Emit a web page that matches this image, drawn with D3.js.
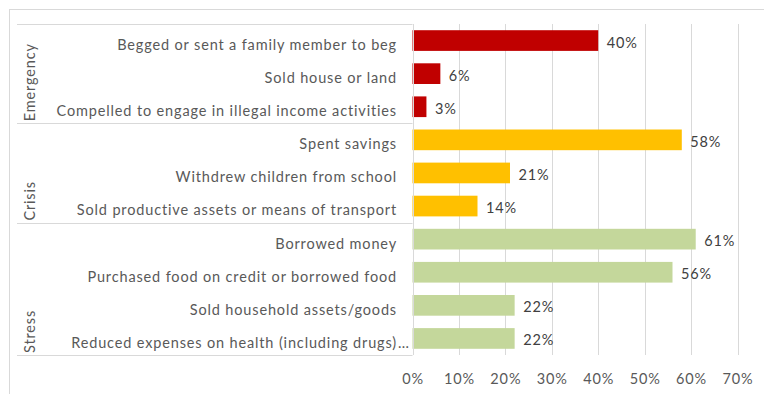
<!DOCTYPE html>
<html>
<head>
<meta charset="utf-8">
<script src="https://cdn.jsdelivr.net/npm/d3@7"></script>
<style>
  html, body { margin: 0; padding: 0; background: #ffffff; }
  svg { display: block; }
  text { font-family: Lato, "Open Sans", sans-serif; letter-spacing: 0.85px; }
</style>
</head>
<body>
<svg id="chart" width="764" height="394"></svg>
<script>
// Coping strategies, share of households (%)
const categories = [
  "Begged or sent a family member to beg",
  "Sold house or land",
  "Compelled to engage in illegal income activities",
  "Spent savings",
  "Withdrew children from school",
  "Sold productive assets or means of transport",
  "Borrowed money",
  "Purchased food on credit or borrowed food",
  "Sold household assets/goods",
  "Reduced expenses on health (including drugs)..."
];
const values = [40, 6, 3, 58, 21, 14, 61, 56, 22, 22];
const groupOf = ["Emergency", "Emergency", "Emergency", "Crisis", "Crisis", "Crisis",
                 "Stress", "Stress", "Stress", "Stress"];
const groups = ["Emergency", "Crisis", "Stress"];
const groupColors = ["#C00000", "#FFC000", "#C4D79B"];
const xTicks = [0, 10, 20, 30, 40, 50, 60, 70];

const svg = d3.select("#chart");
const W = 764, H = 394;
const plot = { left: 412.5, right: 737.5, top: 24, bottom: 355 };
const fontSize = 14.5;

// outer frame
svg.append("rect")
  .attr("x", 9.5).attr("y", 9.5)
  .attr("width", W).attr("height", H)
  .attr("fill", "none").attr("stroke", "#d9d9d9").attr("stroke-width", 1);

const x = d3.scaleLinear().domain([0, 70]).range([plot.left, plot.right]);
const y = d3.scaleBand().domain(d3.range(categories.length))
  .range([plot.top, plot.bottom]).paddingInner(0.375).paddingOuter(0.1875);
const color = d3.scaleOrdinal().domain(groups).range(groupColors);

// vertical gridlines
svg.append("g").selectAll("line").data(xTicks.slice(1)).join("line")
  .attr("x1", d => Math.round(x(d)) + 0.5).attr("x2", d => Math.round(x(d)) + 0.5)
  .attr("y1", plot.top).attr("y2", plot.bottom)
  .attr("stroke", "#d9d9d9").attr("stroke-width", 1);

// x axis tick labels
const xAxis = d3.axisBottom(x).tickValues(xTicks).tickFormat(d => d + "%").tickSize(0).tickPadding(0);
const gx = svg.append("g").attr("transform", `translate(0,${plot.bottom + 19})`).call(xAxis);
gx.select(".domain").remove();
gx.selectAll("text").attr("font-family", "Lato, 'Open Sans', sans-serif")
  .attr("font-size", fontSize).attr("fill", "#595959");

// bars
svg.append("g").selectAll("rect").data(values).join("rect")
  .attr("x", x(0))
  .attr("y", (d, i) => y(i))
  .attr("width", d => x(d) - x(0))
  .attr("height", y.bandwidth())
  .attr("fill", (d, i) => color(groupOf[i]));

// value labels
svg.append("g").selectAll("text").data(values).join("text")
  .attr("x", d => x(d) + 8.5)
  .attr("y", (d, i) => y(i) + y.bandwidth() / 2 + 7)
  .attr("font-size", fontSize).attr("fill", "#404040")
  .text(d => d + "%");

// category label table: group separators and axis line
const groupBounds = groups.map(g => {
  const idx = d3.range(categories.length).filter(i => groupOf[i] === g);
  const step = y.step();
  const top = plot.top + idx[0] * step;
  const bottom = plot.top + (idx[idx.length - 1] + 1) * step;
  return { g, top, bottom };
});
const sepYs = [plot.top].concat(groupBounds.map(b => b.bottom));
svg.append("g").selectAll("line").data(sepYs).join("line")
  .attr("x1", 17).attr("x2", plot.left)
  .attr("y1", d => Math.round(d) + 0.5).attr("y2", d => Math.round(d) + 0.5)
  .attr("stroke", "#d9d9d9").attr("stroke-width", 1);
svg.append("line")
  .attr("x1", Math.round(plot.left) + 0.5).attr("x2", Math.round(plot.left) + 0.5)
  .attr("y1", plot.top).attr("y2", plot.bottom)
  .attr("stroke", "#d9d9d9").attr("stroke-width", 1);

// category labels; a trailing ellipsis hangs past the label column edge
const labelEdge = 397;
const catG = svg.append("g");
categories.forEach((label, i) => {
  const cut = label.endsWith("...");
  const main = cut ? label.slice(0, -3) : label;
  const yy = y(i) + y.bandwidth() / 2 + 9.4;
  catG.append("text")
    .attr("x", labelEdge).attr("y", yy)
    .attr("text-anchor", "end")
    .attr("font-size", fontSize).attr("fill", "#595959")
    .text(main);
  if (cut) {
    catG.append("text")
      .attr("x", labelEdge + 1).attr("y", yy)
      .attr("text-anchor", "start")
      .attr("font-size", fontSize).attr("fill", "#595959")
      .style("letter-spacing", "0.3px")
      .text("...");
  }
});

// group labels, rotated
svg.append("g").selectAll("text").data(groupBounds).join("text")
  .attr("transform", d => `translate(35,${d.bottom - 2}) rotate(-90)`)
  .attr("text-anchor", "start")
  .attr("font-size", fontSize).attr("fill", "#595959")
  .text(d => d.g);
</script>
</body>
</html>
